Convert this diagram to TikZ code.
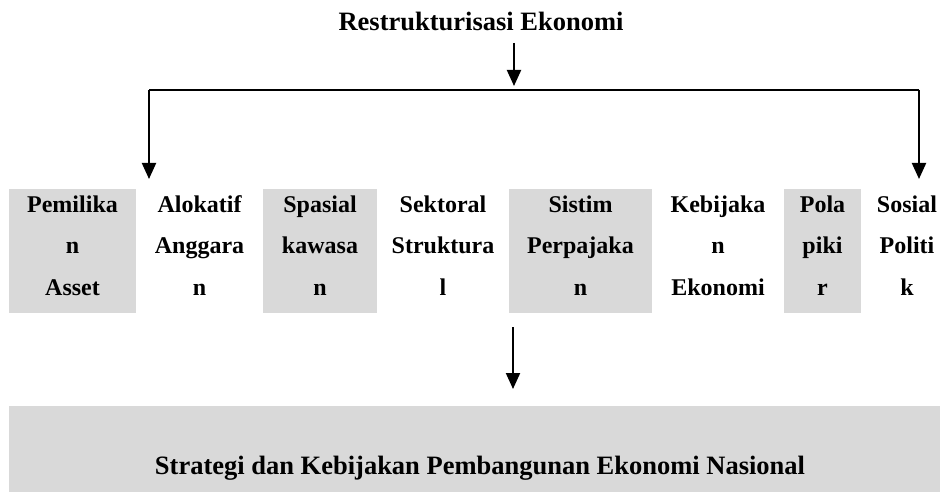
\documentclass[tikz,border=0pt]{standalone}
\usepackage{fontspec}
\setmainfont{Liberation Serif}
\usetikzlibrary{arrows.meta}
\definecolor{shade}{HTML}{D9D9D9}
\begin{document}
\begin{tikzpicture}[x=1pt,y=-1pt,
  conn/.style={line width=2pt},
  arr/.style={conn,-{Triangle[width=14pt,length=16pt]}},
  shadebox/.style={fill=shade, draw=none, inner sep=0pt, outer sep=0pt},
  celltext/.style={anchor=base, inner sep=0pt, font=\fontsize{24}{24}\selectfont\bfseries},
  headtext/.style={anchor=base, inner sep=0pt, font=\fontsize{26.5}{26.5}\selectfont\bfseries}]
\useasboundingbox (0,0) rectangle (940,492);

% heading
\node[headtext] (title) at (481,31) {Restrukturisasi Ekonomi};

% branching connector
\coordinate (tstart) at (514,43);
\coordinate (split) at (514,86);
\coordinate (lcorner) at (149,90);
\coordinate (rcorner) at (919,90);
\coordinate (lend) at (149,179);
\coordinate (rend) at (919,179);
\draw[arr] (tstart) -- (split);
\draw[conn] (lcorner) -- (rcorner);
\draw[arr] (lcorner) -- (lend);
\draw[arr] (rcorner) -- (rend);

% shaded columns
\node[shadebox, minimum width=127pt, minimum height=124pt] (box1) at (72.5,251) {};
\node[shadebox, minimum width=114pt, minimum height=124pt] (box3) at (320,251) {};
\node[shadebox, minimum width=143pt, minimum height=124pt] (box5) at (580.5,251) {};
\node[shadebox, minimum width=77pt, minimum height=124pt] (box7) at (822.5,251) {};

% column labels, three lines each
\foreach \cx/\la/\lb/\lc [count=\i] in {
    72.5/Pemilika/n/Asset,
    199.5/Alokatif/Anggara/n,
    320/Spasial/kawasa/n,
    443/Sektoral/Struktura/l,
    580.5/Sistim/Perpajaka/n,
    718/Kebijaka/n/Ekonomi,
    822.5/Pola/piki/r,
    907/Sosial/Politi/k} {
  \node[celltext] (col\i a) at (\cx,212) {\la};
  \node[celltext] (col\i b) at (\cx,253.5) {\lb};
  \node[celltext] (col\i c) at (\cx,295) {\lc};
}

% arrow to the result
\coordinate (bstart) at (513,327);
\coordinate (bend) at (513,389);
\draw[arr] (bstart) -- (bend);

% result
\node[shadebox, minimum width=931pt, minimum height=86pt] (goal) at (474.5,449) {};
\node[headtext] (goaltext) at (480,474) {Strategi dan Kebijakan Pembangunan Ekonomi Nasional};
\end{tikzpicture}
\end{document}
